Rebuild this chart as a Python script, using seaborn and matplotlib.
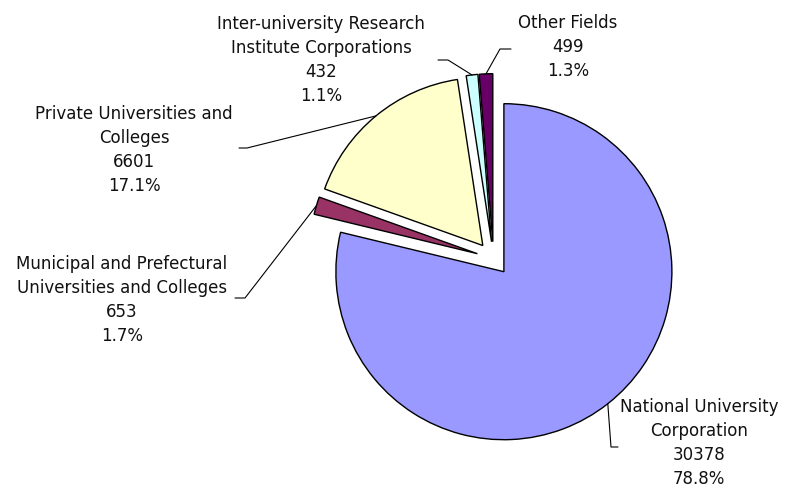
import numpy as np
import matplotlib
matplotlib.use("Agg")
import matplotlib.pyplot as plt
import seaborn as sns

# data
names = ["National University\nCorporation",
         "Municipal and Prefectural\nUniversities and Colleges",
         "Private Universities and\nColleges",
         "Inter-university Research\nInstitute Corporations",
         "Other Fields"]
values = [30378, 653, 6601, 432, 499]
colors = ["#9999FF", "#993366", "#FFFFCC", "#CCFFFF", "#660066"]

# layout (pixels in a 787x492 figure)
W, H = 787, 492
CX, CY, R = 493.5, 258.5, 168.0
EXPLODE = 0.1
label_pos = [(699, 443), (122, 300), (134, 150), (321, 60), (568, 47)]
elbows = [((611, 447), (618, 447)),
          ((245, 298), (235, 298)),
          ((247, 148), (239, 148)),
          ((448, 60), (438, 60)),
          ((500, 49), (511, 49))]


def px(x, y):
    return (x - CX) / R, (CY - y) / R


sns.set_theme(style="white")
plt.rcParams["font.family"] = ["DejaVu Sans"]

fig = plt.figure(figsize=(W / 100, H / 100), dpi=100)
ax = fig.add_axes([0, 0, 1, 1])

wedges, _ = ax.pie(values, colors=colors, startangle=90, counterclock=False,
                   explode=[EXPLODE] * len(values), radius=1.0,
                   wedgeprops=dict(edgecolor="black", linewidth=1.0))

total = sum(values)
for w, name, v, lp, (e1, e2) in zip(wedges, names, values, label_pos, elbows):
    ang = np.deg2rad((w.theta1 + w.theta2) / 2)
    sx, sy = (1 + EXPLODE) * np.cos(ang), (1 + EXPLODE) * np.sin(ang)
    ex1, ey1 = px(*e1)
    ex2, ey2 = px(*e2)
    ax.plot([sx, ex1, ex2], [sy, ey1, ey2], color="black", lw=0.8)
    tx, ty = px(*lp)
    ax.text(tx, ty, f"{name}\n{v}\n{v / total * 100:.1f}%", ha="center", va="center",
            multialignment="center", fontsize=12, linespacing=1.45, color="#111111")

ax.set_xlim(-CX / R, (W - CX) / R)
ax.set_ylim((CY - H) / R, CY / R)
ax.set_aspect("auto")
ax.axis("off")

fig.savefig("out.png", dpi=100, facecolor="white")
